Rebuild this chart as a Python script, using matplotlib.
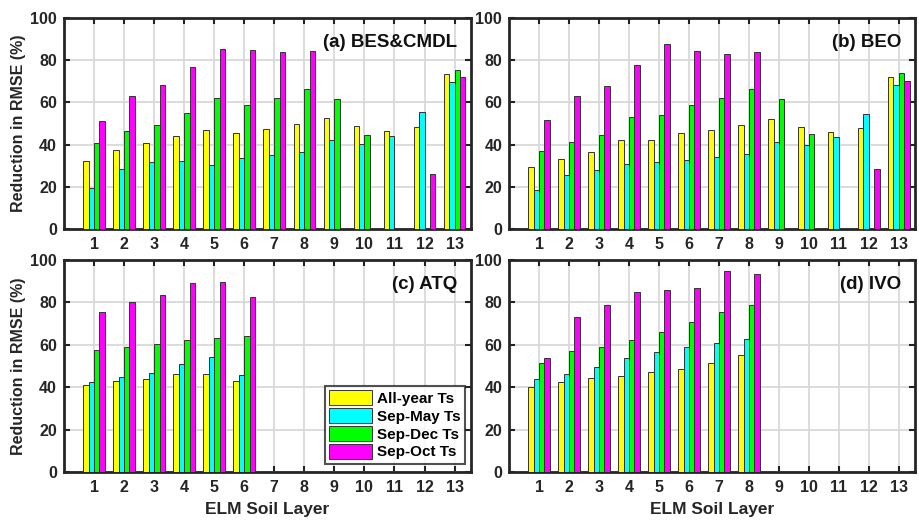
import numpy as np
import matplotlib.pyplot as plt

plt.rcParams['font.family'] = ['Liberation Sans', 'DejaVu Sans']
plt.rcParams['font.weight'] = 'bold'

layers = np.arange(1, 14)
series = ['All-year Ts', 'Sep-May Ts', 'Sep-Dec Ts', 'Sep-Oct Ts']
colors = ['#ffff00', '#00ffff', '#00ff00', '#ff00ff']

# (a) BES&CMDL
bes_all = [32.4, 37.4, 40.6, 44.2, 46.9, 45.5, 47.2, 49.6, 52.8, 48.8, 46.6, 48.3, 73.5]
bes_may = [19.4, 28.4, 31.6, 32.2, 30.3, 33.6, 35.2, 36.5, 42.0, 40.3, 44.2, 55.6, 69.7]
bes_dec = [40.6, 46.3, 49.3, 55.1, 62.2, 58.8, 62.1, 66.4, 61.8, 44.5, 0, 0, 75.2]
bes_oct = [51.2, 63.2, 68.1, 76.9, 85.3, 84.8, 83.7, 84.5, 0, 0, 0, 26.2, 71.8]

# (b) BEO
beo_all = [29.2, 33.2, 36.3, 42.3, 42.3, 45.5, 46.9, 49.3, 52.1, 48.2, 46.0, 48.0, 72.0]
beo_may = [18.5, 25.8, 28.0, 30.6, 31.8, 32.7, 34.3, 35.5, 41.2, 39.8, 43.4, 54.5, 68.1]
beo_dec = [37.0, 41.2, 44.5, 52.9, 54.0, 58.8, 62.1, 66.4, 61.6, 45.0, 0, 0, 73.9]
beo_oct = [51.7, 63.0, 67.9, 77.6, 87.8, 84.5, 83.1, 83.9, 0, 0, 0, 28.4, 70.3]

# (c) ATQ
atq_all = [41.2, 42.7, 44.1, 46.0, 46.4, 42.7]
atq_may = [42.5, 44.9, 46.8, 50.9, 54.3, 45.7]
atq_dec = [57.5, 58.8, 60.5, 62.4, 63.3, 64.0]
atq_oct = [75.4, 80.1, 83.6, 89.1, 89.7, 82.6]

# (d) IVO
ivo_all = [40.3, 42.3, 44.5, 45.5, 47.2, 48.8, 51.2, 55.1]
ivo_may = [43.9, 46.3, 49.4, 53.6, 56.4, 59.1, 60.7, 62.6]
ivo_dec = [51.2, 56.9, 59.1, 62.1, 66.0, 70.9, 75.4, 78.7]
ivo_oct = [54.0, 73.0, 79.0, 84.7, 85.8, 86.7, 94.8, 93.4]

panels = [
    ('(a) BES&CMDL', [bes_all, bes_may, bes_dec, bes_oct]),
    ('(b) BEO', [beo_all, beo_may, beo_dec, beo_oct]),
    ('(c) ATQ', [atq_all, atq_may, atq_dec, atq_oct]),
    ('(d) IVO', [ivo_all, ivo_may, ivo_dec, ivo_oct]),
]

fig = plt.figure(figsize=(9.19, 5.2), dpi=100)
positions = [
    [0.0696, 0.5596, 0.443, 0.406],
    [0.554, 0.5596, 0.442, 0.406],
    [0.0696, 0.0923, 0.443, 0.4077],
    [0.554, 0.0923, 0.442, 0.4077],
]

bw = 0.18
offsets = [-1.5 * bw, -0.5 * bw, 0.5 * bw, 1.5 * bw]

for i, (title, data) in enumerate(panels):
    ax = fig.add_axes(positions[i])
    handles = []
    for vals, off, c, lab in zip(data, offsets, colors, series):
        x = np.arange(1, len(vals) + 1)
        h = ax.bar(x + off, vals, width=bw, color=c, edgecolor='#333333',
                   linewidth=0.7, label=lab, zorder=3)
        handles.append(h)
    ax.set_xlim(0, 13.55)
    ax.set_ylim(0, 100)
    ax.set_xticks(layers)
    ax.set_yticks(np.arange(0, 101, 20))
    ax.grid(True, color='#d9d9d9', linewidth=1.3, zorder=0)
    ax.set_axisbelow(True)
    ax.tick_params(direction='in', top=True, right=True, length=4, width=1.5,
                   labelsize=11.5, color='#222222')
    ax.tick_params(axis='x', pad=6)
    ax.tick_params(axis='y', pad=5)
    for lbl in ax.get_xticklabels() + ax.get_yticklabels():
        lbl.set_fontweight('bold')
        lbl.set_color('#262626')
    for s in ax.spines.values():
        s.set_linewidth(2)
        s.set_color('#262626')
    ax.text(0.965, 0.885, title, transform=ax.transAxes, ha='right', va='center',
            fontsize=13.5, fontweight='bold', color='#111111')
    if i % 2 == 0:
        ax.set_ylabel('Reduction in RMSE (%)', fontsize=11.5, fontweight='bold',
                      color='#262626', labelpad=3)
    if i >= 2:
        ax.set_xlabel('ELM Soil Layer', fontsize=12.5, fontweight='bold',
                      color='#262626', labelpad=5)
    if i == 2:
        leg = ax.legend(handles=handles, loc='lower right',
                        bbox_to_anchor=(0.985, 0.038), fontsize=11,
                        frameon=True, fancybox=False, edgecolor='#262626',
                        handlelength=2.8, handleheight=1.1, handletextpad=0.3,
                        labelspacing=0.15, borderpad=0.3, borderaxespad=0)
        leg.get_frame().set_linewidth(1.5)
        for t in leg.get_texts():
            t.set_fontweight('bold')

fig.savefig('out.png', dpi=100)
